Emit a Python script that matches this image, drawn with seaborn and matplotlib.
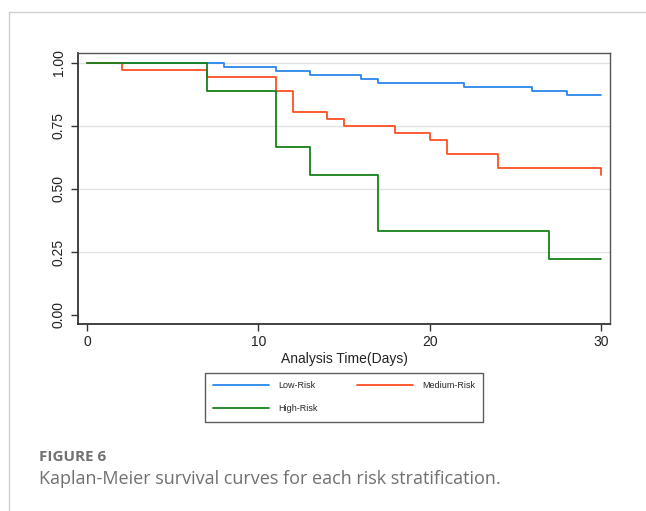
import matplotlib
matplotlib.use("Agg")
import matplotlib.pyplot as plt
from matplotlib.lines import Line2D
import seaborn as sns
import pandas as pd

# Kaplan-Meier step points (time in days, survival)
low_time = [0, 8, 11, 13, 16, 17, 22, 26, 28, 30]
low_surv = [1.0, 0.984, 0.968, 0.952, 0.937, 0.921, 0.905, 0.889, 0.873, 0.873]

med_time = [0, 2, 7, 11, 12, 14, 15, 18, 20, 21, 24, 30, 30]
med_surv = [1.0, 0.972, 0.944, 0.889, 0.806, 0.778, 0.750, 0.722, 0.694, 0.639,
            0.583, 0.583, 0.556]

high_time = [0, 7, 11, 13, 17, 27, 30]
high_surv = [1.0, 0.889, 0.667, 0.556, 0.333, 0.222, 0.222]

groups = ["Low-Risk", "Medium-Risk", "High-Risk"]
colors = ["#2a87ec", "#ff4f23", "#16801a"]
x_ticks = [0, 10, 20, 30]
y_ticks = [0.0, 0.25, 0.5, 0.75, 1.0]
y_ticklabels = ["0.00", "0.25", "0.50", "0.75", "1.00"]

rows = []
for name, t, s in zip(groups, [low_time, med_time, high_time],
                      [low_surv, med_surv, high_surv]):
    for ti, si in zip(t, s):
        rows.append({"time": ti, "surv": si, "group": name})
df = pd.DataFrame(rows)

sns.set_style("white")
plt.rcParams["font.family"] = ["Liberation Sans", "DejaVu Sans"]

fig = plt.figure(figsize=(6.46, 5.11), dpi=100)
W, H = 646, 511
ax = fig.add_axes([78.3 / W, 1 - 324.3 / H, (610 - 78.3) / W, (324.3 - 53.3) / H])

for yv in y_ticks[1:]:
    ax.axhline(yv, color="#e2e2e2", lw=1.0, zorder=0)

sns.lineplot(data=df, x="time", y="surv", hue="group", hue_order=groups,
             palette=colors, estimator=None, sort=False, drawstyle="steps-post",
             lw=1.3, ax=ax, legend=False)

ax.set_xlim(-0.526, 30.54)
ax.set_ylim(-0.037, 1.0385)
ax.set_xticks(x_ticks)
ax.set_yticks(y_ticks)
ax.set_yticklabels(y_ticklabels, rotation=90, va="center")
ax.tick_params(axis="both", direction="out", length=5, width=1, color="#333333",
               labelsize=10, labelcolor="#222222", left=True, bottom=True)
ax.tick_params(axis="y", pad=4)
ax.tick_params(axis="x", pad=3)
ax.set_xlabel("Analysis Time(Days)", fontsize=10, color="#222222", labelpad=2)
ax.set_ylabel("")

for side in ["left", "bottom"]:
    ax.spines[side].set_color("#333333")
    ax.spines[side].set_linewidth(1.3)
for side in ["top", "right"]:
    ax.spines[side].set_color("#555555")
    ax.spines[side].set_linewidth(1.0)

# legend fills column-first: Low / High in column 1, Medium in column 2
order = [0, 2, 1]
handles = [Line2D([], [], color=colors[i], lw=1.3) for i in order]
labels = [groups[i] for i in order]
leg = fig.legend(handles, labels, loc="upper left",
                 bbox_to_anchor=(204.7 / W, 1 - 373.3 / H), borderaxespad=0,
                 ncol=2, fontsize=6.5, handlelength=6.2, handletextpad=1.0,
                 columnspacing=4.4, labelspacing=1.55, borderpad=0.9,
                 fancybox=False, frameon=True, edgecolor="#333333")
leg.get_frame().set_linewidth(1.0)

# page frame lines
fig.add_artist(Line2D([9.3 / W, 1], [1 - 11.7 / H, 1 - 11.7 / H],
                      color="#cfcfcf", lw=1.0))
fig.add_artist(Line2D([9.3 / W, 9.3 / W], [0, 1 - 11.7 / H],
                      color="#cfcfcf", lw=1.0))

fig.text(39.3 / W, 1 - 456.7 / H, "FIGURE 6", fontsize=11, fontweight="bold",
         color="#707070", family=["Open Sans", "DejaVu Sans"], va="center")
fig.text(39.3 / W, 1 - 479.3 / H,
         "Kaplan-Meier survival curves for each risk stratification.",
         fontsize=13, color="#707070", family=["Open Sans", "DejaVu Sans"],
         va="center")

fig.savefig("out.png", dpi=100)
